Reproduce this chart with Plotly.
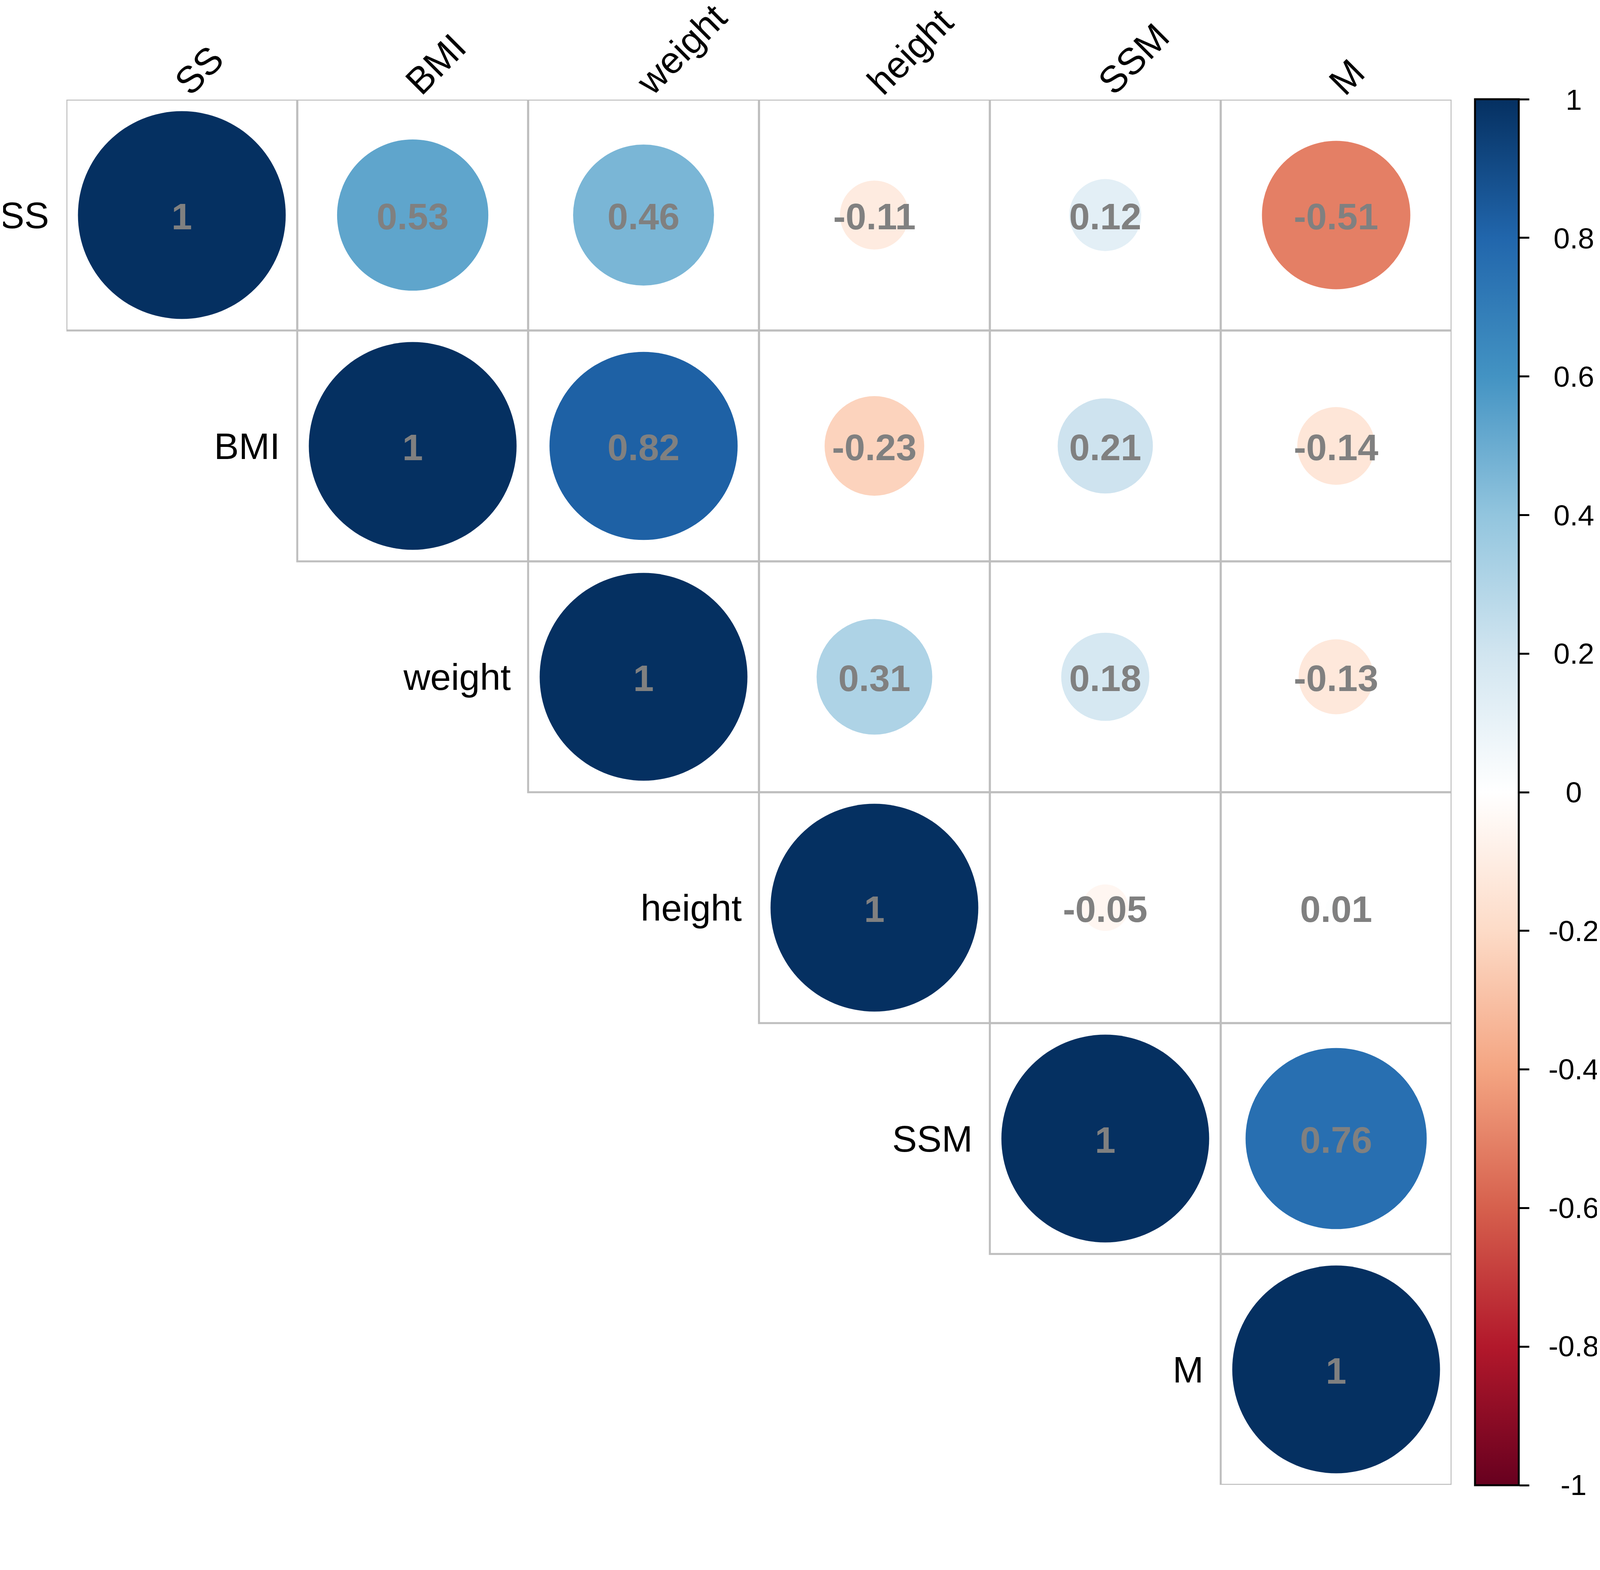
import numpy as np
import plotly.graph_objects as go

# variables, in matrix order
names = ["SS", "BMI", "weight", "height", "SSM", "M"]

# upper triangle of the correlation matrix, one row per variable (diagonal first)
row_SS = [1, 0.53, 0.46, -0.11, 0.12, -0.51]
row_BMI = [1, 0.82, -0.23, 0.21, -0.14]
row_weight = [1, 0.31, 0.18, -0.13]
row_height = [1, -0.05, 0.01]
row_SSM = [1, 0.76]
row_M = [1]
upper_rows = [row_SS, row_BMI, row_weight, row_height, row_SSM, row_M]

# colour legend ticks
cbar_ticks = [1, 0.8, 0.6, 0.4, 0.2, 0, -0.2, -0.4, -0.6, -0.8, -1]
cbar_labels = ["1", "0.8", "0.6", "0.4", "0.2", "0", "-0.2", "-0.4", "-0.6", "-0.8", "-1"]

# corrplot-like RdBu (red for -1, blue for +1)
rdbu = ["#67001F", "#B2182B", "#D6604D", "#F4A582", "#FDDBC7", "#FFFFFF",
        "#D1E5F0", "#92C5DE", "#4393C3", "#2166AC", "#053061"]
colorscale = [[k / (len(rdbu) - 1), c] for k, c in enumerate(rdbu)]

W, H = 4100, 3831
ML, MT = 162, 247
PLOT = 3546
MR, MB = W - ML - PLOT, H - MT - PLOT
n = len(names)
cell_px = PLOT / n
font = "Liberation Sans, Arial, sans-serif"

# flatten the triangle into cell positions
xs, ys, vals = [], [], []
for i, row in enumerate(upper_rows):
    for k, v in enumerate(row):
        xs.append(i + k + 1)
        ys.append(i + 1)
        vals.append(v)
vals = np.array(vals, dtype=float)
sizes = 0.9 * cell_px * np.sqrt(np.abs(vals))
labels = [f"{v:g}" for v in vals]

fig = go.Figure()

# cell borders
for x, y in zip(xs, ys):
    fig.add_shape(type="rect", x0=x - 0.5, x1=x + 0.5, y0=y - 0.5, y1=y + 0.5,
                  line=dict(color="#BEBEBE", width=5), layer="below")

cb_x = (3768 - ML) / PLOT
fig.add_trace(go.Scatter(
    x=xs, y=ys, mode="markers",
    marker=dict(
        size=sizes, sizemode="diameter", color=vals, opacity=1,
        colorscale=colorscale, cmin=-1, cmax=1, line=dict(width=0),
        showscale=True,
        colorbar=dict(
            x=cb_x, xanchor="left", xpad=0,
            y=0.5, yanchor="middle", ypad=0,
            len=PLOT + 2, lenmode="pixels",
            thickness=112, thicknessmode="pixels",
            outlinecolor="black", outlinewidth=5,
            tickmode="array", tickvals=cbar_ticks,
            ticks="outside", ticklen=25, tickwidth=5, tickcolor="black",
            showticklabels=False,
        ),
    ),
    hoverinfo="skip", showlegend=False,
))

# correlation values on top of the circles
for x, y, lab in zip(xs, ys, labels):
    fig.add_annotation(x=x, y=y, xref="x", yref="y", text=lab, showarrow=False,
                       xanchor="center", yanchor="middle", yshift=-3,
                       font=dict(family=font, size=95, color="#808080", weight="bold"))

# colour legend labels, centred right of the ticks
for v, lab in zip(cbar_ticks, cbar_labels):
    fig.add_annotation(x=(4021 - ML) / PLOT, y=(v + 1) / 2, xref="paper", yref="paper",
                       text=lab, showarrow=False, xanchor="center", yanchor="middle",
                       font=dict(family=font, size=75, color="black"))

# row labels, left of the diagonal
for i, name in enumerate(names):
    fig.add_annotation(x=i + 0.5, y=i + 1, xref="x", yref="y", text=name,
                       showarrow=False, xanchor="right", yanchor="middle", xshift=-42,
                       font=dict(family=font, size=95, color="black"))

# column labels, rotated along the top
for j, name in enumerate(names):
    fig.add_annotation(x=j + 1, y=0.5, xref="x", yref="y", text=name,
                       showarrow=False, xanchor="left", yanchor="bottom", textangle=-45,
                       xshift=-42, yshift=-10,
                       font=dict(family=font, size=96, color="black"))

fig.update_xaxes(range=[0.5, n + 0.5], visible=False)
fig.update_yaxes(range=[n + 0.5, 0.5], visible=False)
fig.update_layout(
    width=W, height=H,
    margin=dict(l=ML, r=MR, t=MT, b=MB),
    plot_bgcolor="white", paper_bgcolor="white",
)

fig.write_html("out.html")
